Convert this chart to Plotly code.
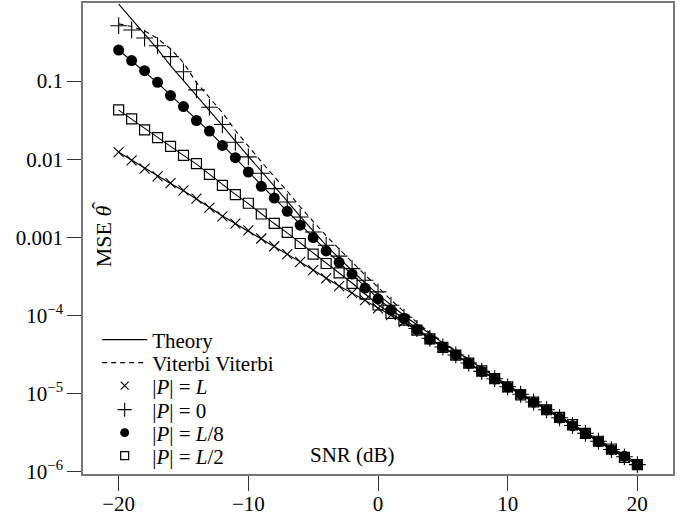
import plotly.graph_objects as go

snr_db = list(range(-20, 21))

# Simulated MSE, |P| = L  (x markers)
mse_P_L = [0.01233, 0.00966, 0.00757, 0.00603, 0.00495, 0.00400, 0.00313, 0.00240, 0.00186, 0.00150,
           0.00123, 9.66e-4, 7.69e-4, 6.08e-4, 4.85e-4, 3.80e-4, 2.98e-4, 2.37e-4, 1.95e-4, 1.57e-4,
           1.23e-4, 1.01e-4, 8.3e-5, 6.5e-5, 5.0e-5, 3.9e-5, 3.1e-5, 2.45e-5, 1.9e-5, 1.55e-5,
           1.2e-5, 9.8e-6, 7.8e-6, 6.2e-6, 4.9e-6, 3.9e-6, 3.1e-6, 2.45e-6, 1.9e-6, 1.55e-6, 1.23e-6]

# Simulated MSE, |P| = 0  (+ markers)
mse_P_0 = [0.512, 0.451, 0.356, 0.284, 0.206, 0.132, 0.0773, 0.0462, 0.0278, 0.0165,
           0.0107, 0.00660, 0.00420, 0.00283, 0.00182, 0.00117, 7.9e-4, 5.75e-4, 3.98e-4, 2.82e-4,
           2.0e-4, 1.35e-4, 9.5e-5, 6.8e-5, 5.1e-5, 3.95e-5, 3.12e-5, 2.46e-5, 1.92e-5, 1.55e-5,
           1.22e-5, 9.8e-6, 7.8e-6, 6.2e-6, 4.9e-6, 3.9e-6, 3.1e-6, 2.45e-6, 1.92e-6, 1.55e-6, 1.23e-6]

# Simulated MSE, |P| = L/8  (filled circles)
mse_P_L8 = [0.250, 0.183, 0.136, 0.0966, 0.0653, 0.0472, 0.0313, 0.0229, 0.0150, 0.01045,
            0.00684, 0.00450, 0.00318, 0.00215, 0.00143, 9.93e-4, 6.70e-4, 4.78e-4, 3.38e-4, 2.24e-4,
            1.63e-4, 1.17e-4, 9.2e-5, 6.6e-5, 4.95e-5, 3.92e-5, 3.12e-5, 2.44e-5, 1.91e-5, 1.54e-5,
            1.21e-5, 9.8e-6, 7.76e-6, 6.19e-6, 4.85e-6, 3.86e-6, 3.05e-6, 2.44e-6, 1.91e-6, 1.57e-6, 1.23e-6]

# Simulated MSE, |P| = L/2  (open squares)
mse_P_L2 = [0.0429, 0.0329, 0.0238, 0.0189, 0.0146, 0.0112, 0.00877, 0.00640, 0.00462, 0.00353,
            0.00273, 0.00199, 0.00151, 0.00116, 8.34e-4, 6.08e-4, 4.62e-4, 3.51e-4, 2.57e-4, 1.87e-4,
            1.36e-4, 1.06e-4, 8.7e-5, 6.5e-5, 5.0e-5, 3.9e-5, 3.1e-5, 2.45e-5, 1.95e-5, 1.55e-5,
            1.22e-5, 9.6e-6, 7.8e-6, 6.2e-6, 4.95e-6, 4.0e-6, 3.1e-6, 2.45e-6, 1.95e-6, 1.52e-6, 1.23e-6]

# Theory curves
theory_P_L = [0.0123, 0.00975, 0.00770, 0.00610, 0.00490, 0.00395, 0.00312, 0.00243, 0.00188, 0.00150,
              0.00122, 9.7e-4, 7.7e-4, 6.1e-4, 4.85e-4, 3.82e-4, 3.0e-4, 2.38e-4, 1.93e-4, 1.56e-4,
              1.24e-4, 1.0e-4, 8.2e-5, 6.5e-5, 5.0e-5, 3.92e-5, 3.1e-5, 2.45e-5, 1.92e-5, 1.55e-5,
              1.22e-5, 9.8e-6, 7.8e-6, 6.2e-6, 4.9e-6, 3.9e-6, 3.1e-6, 2.45e-6, 1.92e-6, 1.55e-6, 1.23e-6]
theory_P_0 = [0.97, 0.62, 0.40, 0.257, 0.158, 0.102, 0.066, 0.042, 0.027, 0.017,
              0.011, 0.0069, 0.0045, 0.0029, 0.00186, 0.0012, 7.9e-4, 5.4e-4, 3.7e-4, 2.6e-4,
              1.86e-4, 1.35e-4, 1.0e-4, 7.6e-5, 5.75e-5, 4.47e-5, 3.47e-5, 2.7e-5, 2.14e-5, 1.66e-5,
              1.29e-5, 1.02e-5, 8.1e-6, 6.45e-6, 5.1e-6, 4.07e-6, 3.2e-6, 2.57e-6, 2.04e-6, 1.62e-6, 1.29e-6]
theory_P_L8 = [0.250, 0.180, 0.133, 0.095, 0.066, 0.0465, 0.0320, 0.0225, 0.0153, 0.0105,
               0.0070, 0.00465, 0.00315, 0.00215, 0.00145, 9.9e-4, 6.8e-4, 4.75e-4, 3.35e-4, 2.3e-4,
               1.65e-4, 1.2e-4, 9.0e-5, 6.7e-5, 5.1e-5, 3.95e-5, 3.1e-5, 2.45e-5, 1.92e-5, 1.55e-5,
               1.22e-5, 9.8e-6, 7.8e-6, 6.2e-6, 4.9e-6, 3.9e-6, 3.1e-6, 2.45e-6, 1.92e-6, 1.55e-6, 1.23e-6]
theory_P_L2 = [0.0425, 0.0325, 0.0245, 0.0188, 0.0145, 0.0112, 0.00865, 0.00645, 0.00470, 0.00355,
               0.00270, 0.00200, 0.00150, 0.00114, 8.5e-4, 6.2e-4, 4.65e-4, 3.5e-4, 2.6e-4, 1.88e-4,
               1.38e-4, 1.05e-4, 8.4e-5, 6.5e-5, 5.0e-5, 3.92e-5, 3.1e-5, 2.45e-5, 1.92e-5, 1.55e-5,
               1.22e-5, 9.8e-6, 7.8e-6, 6.2e-6, 4.9e-6, 3.9e-6, 3.1e-6, 2.45e-6, 1.92e-6, 1.55e-6, 1.23e-6]

# Viterbi & Viterbi estimator
viterbi = [0.54, 0.50, 0.44, 0.35, 0.26, 0.172, 0.0957, 0.0615, 0.0396, 0.0233,
           0.0146, 0.0093, 0.0060, 0.0039, 0.00245, 0.00158, 0.00105, 7.1e-4, 4.8e-4, 3.3e-4,
           2.3e-4, 1.58e-4, 1.12e-4, 8.1e-5, 6.0e-5, 4.57e-5, 3.55e-5, 2.75e-5, 2.14e-5, 1.66e-5,
           1.28e-5, 1.0e-5, 8.0e-6, 6.3e-6, 5.0e-6, 4.0e-6, 3.15e-6, 2.5e-6, 1.97e-6, 1.58e-6, 1.26e-6]

ytick_vals = [1e-6, 1e-5, 1e-4, 1e-3, 1e-2, 1e-1]
ytick_text = ["10<sup>−6</sup>", "10<sup>−5</sup>", "10<sup>−4</sup>", "0.001", "0.01", "0.1"]
xtick_vals = [-20, -10, 0, 10, 20]
xtick_text = ["−20", "−10", "0", "10", "20"]

legend_labels = ["Theory", "Viterbi Viterbi", "|<i>P</i>| = <i>L</i>", "|<i>P</i>| = 0",
                 "|<i>P</i>| = <i>L</i>/8", "|<i>P</i>| = <i>L</i>/2"]

FONT = "Liberation Serif"
FS = 21
DASH = "5px,4px"
fig = go.Figure()

# --- data traces (not in legend) ---
for th in [theory_P_L, theory_P_0, theory_P_L8, theory_P_L2]:
    fig.add_trace(go.Scatter(x=snr_db, y=th, mode="lines", showlegend=False,
                             line=dict(color="black", width=1.1)))
fig.add_trace(go.Scatter(x=snr_db, y=viterbi, mode="lines", showlegend=False,
                         line=dict(color="black", width=1.1, dash=DASH)))

mk_x = dict(symbol="x-thin-open", color="black", line=dict(color="black", width=1.1))
mk_p = dict(symbol="cross-thin-open", color="black", line=dict(color="black", width=1.1))
mk_c = dict(symbol="circle", color="black", line=dict(width=0))
mk_s = dict(symbol="square-open", color="black", line=dict(color="black", width=1.2))

fig.add_trace(go.Scatter(x=snr_db, y=mse_P_L, mode="markers", showlegend=False, marker=dict(mk_x, size=10)))
fig.add_trace(go.Scatter(x=snr_db, y=mse_P_0, mode="markers", showlegend=False, marker=dict(mk_p, size=12)))
fig.add_trace(go.Scatter(x=snr_db, y=mse_P_L8, mode="markers", showlegend=False, marker=dict(mk_c, size=11)))
fig.add_trace(go.Scatter(x=snr_db, y=mse_P_L2, mode="markers", showlegend=False, marker=dict(mk_s, size=10)))

# --- legend-only entries (no data points) ---
legend_styles = [
    dict(mode="lines", line=dict(color="black", width=1.1)),
    dict(mode="lines", line=dict(color="black", width=1.1, dash=DASH)),
    dict(mode="markers", marker=dict(mk_x, size=8)),
    dict(mode="markers", marker=dict(mk_p, size=10)),
    dict(mode="markers", marker=dict(mk_c, size=9)),
    dict(mode="markers", marker=dict(mk_s, size=8)),
]
for k, (lab, st) in enumerate(zip(legend_labels, legend_styles)):
    key = "legend" if k == 0 else f"legend{k + 1}"
    fig.add_trace(go.Scatter(x=[None], y=[None], name=lab, showlegend=True, legend=key, **st))

# Plot area: 83..673 px horizontally, 3..474 px vertically -> 471 px tall
legend_centers_px = [340, 363, 386, 410, 433, 456]
legend_common = dict(x=0.024, xanchor="left", yanchor="middle", bgcolor="rgba(0,0,0,0)",
                     borderwidth=0, font=dict(family=FONT, size=FS), itemwidth=45)
legend_layout = {}
for k, cpx in enumerate(legend_centers_px):
    key = "legend" if k == 0 else f"legend{k + 1}"
    legend_layout[key] = dict(legend_common, y=(474 - cpx) / 471)

fig.update_layout(
    width=691, height=517,
    margin=dict(l=83, r=18, t=3, b=43),
    paper_bgcolor="white", plot_bgcolor="white",
    font=dict(family=FONT, size=FS, color="black"),
    showlegend=True,
    annotations=[
        dict(text="SNR (dB)", x=0.456, y=0.040, xref="paper", yref="paper",
             showarrow=False, font=dict(family=FONT, size=FS), xanchor="center", yanchor="middle"),
        dict(text="MSE <i>θ</i>",
             x=0.034, y=0.505, xref="paper", yref="paper", textangle=-90,
             showarrow=False, font=dict(family=FONT, size=22), xanchor="center", yanchor="middle"),
        dict(text="ˆ",
             x=0.034, y=0.505, xref="paper", yref="paper", textangle=-90, xshift=-4, yshift=31,
             showarrow=False, font=dict(family=FONT, size=22), xanchor="center", yanchor="middle"),
    ],
    **legend_layout,
)
fig.update_xaxes(range=[-22.75, 22.75], tickvals=xtick_vals, ticktext=xtick_text,
                 ticks="outside", ticklen=15, tickwidth=1.2, tickcolor="#333",
                 ticklabelstandoff=-5,
                 showline=True, linecolor="#777", linewidth=1.6, mirror=True,
                 showgrid=False, zeroline=False, automargin=False,
                 tickfont=dict(family=FONT, size=FS))
fig.update_yaxes(type="log", range=[-6.03, 0.0], tickvals=ytick_vals, ticktext=ytick_text,
                 ticks="outside", ticklen=14, tickwidth=1.2, tickcolor="#333",
                 showline=True, linecolor="#777", linewidth=1.6, mirror=True,
                 showgrid=False, zeroline=False, automargin=False,
                 tickfont=dict(family=FONT, size=FS))

fig.write_html("out.html", config={"displayModeBar": False},
               post_script="document.body.style.margin='0';")
